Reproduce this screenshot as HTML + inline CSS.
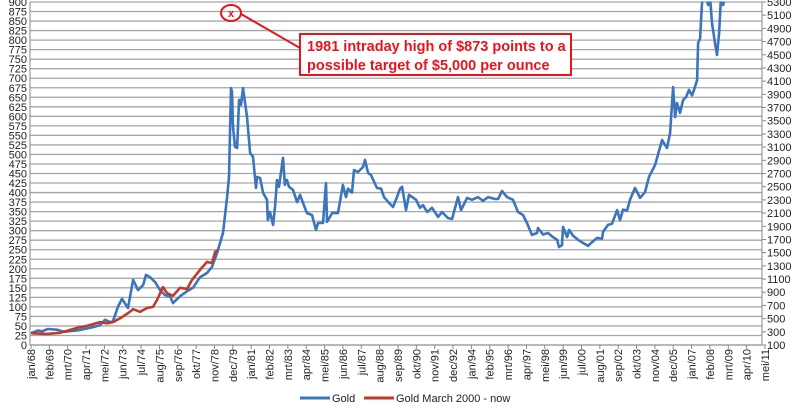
<!DOCTYPE html>
<html><head><meta charset="utf-8"><style>
html,body{margin:0;padding:0;background:#fff;}
svg{display:block;font-family:"Liberation Sans",sans-serif;}
</style></head><body>
<svg id="chart" width="800" height="410" viewBox="0 0 800 410" xmlns="http://www.w3.org/2000/svg">
<defs><clipPath id="plotClip"><rect x="29" y="1.5" width="734" height="345"/></clipPath></defs>
<g id="grid"></g>
<g id="leftAxis"></g>
<g id="rightAxis"></g>
<g id="xAxis"></g>
<g id="series" clip-path="url(#plotClip)"></g>
<g>
  <ellipse cx="231" cy="13" rx="10" ry="8" fill="none" stroke="#e8141c" stroke-width="2"/>
  <text x="231" y="17" text-anchor="middle" font-size="11" font-weight="bold" fill="#e8141c">x</text>
  <line x1="241" y1="14" x2="300" y2="48" stroke="#e8141c" stroke-width="2"/>
  <rect x="300" y="34" width="271" height="41" fill="#fff" stroke="#e8141c" stroke-width="2"/>
  <text x="307" y="51" font-size="14.5" font-weight="bold" fill="#e8141c">1981 intraday high of $873 points to a</text>
  <text x="307" y="70" font-size="14.5" font-weight="bold" fill="#e8141c">possible target of $5,000 per ounce</text>
</g>
<g>
  <g>
    <line x1="300" y1="398" x2="330" y2="398" stroke="#3a75be" stroke-width="3"/>
    <text x="332" y="402" font-size="11" fill="#222">Gold</text>
  </g>
  <g>
    <line x1="364" y1="398" x2="394" y2="398" stroke="#c0392b" stroke-width="3"/>
    <text x="396" y="402" font-size="11" fill="#222">Gold March 2000 - now</text>
  </g>
</g>
</svg>
<script>
const leftTicks = [0,25,50,75,100,125,150,175,200,225,250,275,300,325,350,375,400,425,450,475,500,525,550,575,600,625,650,675,700,725,750,775,800,825,850,875,900];
const rightTicks = [100,300,500,700,900,1100,1300,1500,1700,1900,2100,2300,2500,2700,2900,3100,3300,3500,3700,3900,4100,4300,4500,4700,4900,5100,5300];
const xLabels = ["jan/68","feb/69","mrt/70","apr/71","mei/72","jun/73","jul/74","aug/75","sep/76","okt/77","nov/78","dec/79","jan/81","feb/82","mrt/83","apr/84","mei/85","jun/86","jul/87","aug/88","sep/89","okt/90","nov/91","dec/92","jan/94","feb/95","mrt/96","apr/97","mei/98","jun/99","jul/00","aug/01","sep/02","okt/03","nov/04","dec/05","jan/07","feb/08","mrt/09","apr/10","mei/11"];
// months since jan/68
const goldMonths = [0,2.8,5,7.8,12,19,22,24,32.6,41.8,48.9,52.4,56,58,61.6,64.5,68.7,72.3,75.8,79.4,81.5,84.3,87.9,91.4,94.9,98.5,100.6,105.6,110.5,114.8,119.7,124.7,128.2,131.8,136,138.9,140.3,141.7,142.4,143.1,144.5,146,147.4,148.8,150.2,153,155.2,157.3,159.4,160.1,162.3,164.4,167.2,167.8,169.3,171.5,172.9,174.3,175.7,178.5,179.9,181.4,182.8,185.6,188.5,190.6,192.7,195.5,199.1,201.9,203.4,206.9,209,209.7,213.3,217.5,221,223.2,224.6,227.4,228.8,231.7,235.2,236.6,238.8,240.9,245.1,248,250.1,253.6,256.5,259.3,261.4,262.9,265.7,267.8,272.8,275.6,277.7,280.6,284.1,288.4,291.2,295.4,298.3,302.5,304.7,308.9,312.4,316.7,320.2,323.8,328.7,330.9,333.7,337.2,341.5,345,348.6,351.4,354.9,358.5,359.2,362.7,366.3,369.8,372.7,374.1,376.2,376.9,379.8,381.2,384,387.5,391.1,394.6,397.5,401,404.5,405.3,408.8,411.6,415.2,417.3,419.4,422.3,424.4,427.9,431.5,435,437.8,442.1,447.1,450.6,452.8,454.9,456.3,457.7,459.8,462,464.1,466.2,468.3,469.7,471.9,472.6,474,475.4,476.9,479,479.7,481.1,482.5,484.6,486,487.5,488.9,490.3,491];
const goldValues = [31,35,38,36,42,40,36,35,38,45,52,66,60,62,100,121,97,171,144,157,184,178,165,144,131,128,110,128,141,150,178,189,205,241,294,388,441,674,664,572,520,517,643,630,674,599,504,494,412,441,438,399,381,328,349,315,362,433,415,491,420,433,415,407,375,394,373,346,341,302,320,320,425,323,346,346,420,388,410,400,459,454,467,486,451,446,412,410,388,373,362,388,410,415,354,394,381,360,367,349,360,336,349,333,331,388,354,386,381,388,378,388,383,383,404,388,381,349,341,320,289,294,307,290,294,283,276,257,262,310,283,302,287,276,268,260,270,281,279,297,315,318,354,328,355,353,381,412,386,401,441,472,538,517,556,677,598,635,609,643,651,669,655,669,695,792,805,897,920,905,892,910,845,792,761,818,920,892,900];
const march2000Months = [0,11.3,20.5,25.5,32.6,39.7,48.9,53.8,58.1,64.5,70.1,72.3,77.2,82.2,86.4,89.3,93.5,96.4,100.6,105.6,110.5,114.1,119.7,124.7,128.2,130.4,132.5];
const march2000Values = [31,29,32,37,45,50,60,57,60,73,87,94,87,97,100,118,152,136,129,150,147,171,197,218,215,244,249];

const NS = "http://www.w3.org/2000/svg";
const X0 = 30, X1 = 762, Y0 = 345, YTOP = 2;
const xMonth = m => 31 + m * 1.4115;
const yLeft = v => Y0 - (v / 900) * (Y0 - YTOP);
const yRight = v => Y0 - ((v - 100) / 5200) * (Y0 - YTOP);
function mk(tag, attrs, parent){ const e = document.createElementNS(NS, tag); for (const k in attrs) e.setAttribute(k, attrs[k]); parent.appendChild(e); return e; }

const grid = document.getElementById('grid');
const la = document.getElementById('leftAxis');
leftTicks.forEach(t => {
  const y = yLeft(t);
  const gl = mk('line', {x1:X0, x2:X1, y1:y, y2:y, stroke:'#a6a6a6', 'stroke-width':1.3}, grid);
  
  
  const tx = mk('text', {x:27, y:y+4, 'text-anchor':'end', 'font-size':11, fill:'#222'}, la);
  tx.textContent = t;
  
  
});
mk('line', {x1:X0, x2:X0, y1:YTOP, y2:Y0, stroke:'#888', 'stroke-width':1}, la);
const ra = document.getElementById('rightAxis');
mk('line', {x1:X1, x2:X1, y1:YTOP, y2:Y0, stroke:'#888', 'stroke-width':1}, ra);
rightTicks.forEach(t => {
  const y = yRight(t);
  mk('line', {x1:X1, x2:X1+4, y1:y, y2:y, stroke:'#888'}, ra);
  const tx = mk('text', {x:767, y:y+4, 'font-size':11, fill:'#222'}, ra);
  tx.textContent = t;
  
  
});
const xa = document.getElementById('xAxis');
mk('line', {x1:X0, x2:X1, y1:Y0, y2:Y0, stroke:'#888', 'stroke-width':1}, xa);
xLabels.forEach((lab, i) => {
  const x = xMonth(i * 13);
  mk('line', {x1:x, x2:x, y1:Y0, y2:Y0+4, stroke:'#888'}, xa);
  const tx = mk('text', {x:0, y:0, 'text-anchor':'end', 'font-size':11, fill:'#222', transform:`translate(${x+4},349) rotate(-90)`}, xa);
  tx.textContent = lab;
  
  
});
const sg = document.getElementById('series');
function line(ms, vs, color, name){
  const d = ms.map((m, i) => (i ? 'L' : 'M') + xMonth(m).toFixed(1) + ',' + yLeft(vs[i]).toFixed(1)).join('');
  const p = mk('path', {d, fill:'none', stroke:color, 'stroke-width':2.6, 'stroke-linejoin':'round'}, sg);
  
  
}
line(goldMonths, goldValues, '#3a75be', 'gold-line');
line(march2000Months, march2000Values, '#c0392b', 'gold-march-2000-line');
</script>
</body></html>
